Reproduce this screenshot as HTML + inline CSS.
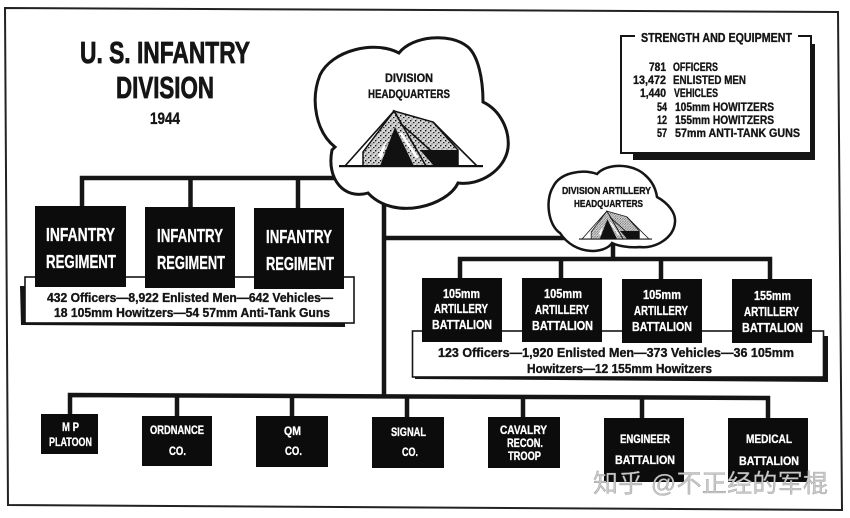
<!DOCTYPE html>
<html><head><meta charset="utf-8"><style>
html,body{margin:0;padding:0;background:#fff}
svg{display:block}
text{font-family:"Liberation Sans","Noto Sans CJK SC",sans-serif;font-weight:bold}
.w{fill:#fff;stroke:#fff;stroke-width:.3}.k{fill:#151515;stroke:#151515;stroke-width:.35}
</style></head><body>
<svg width="850" height="518" viewBox="0 0 850 518" xmlns="http://www.w3.org/2000/svg">
<defs>
<pattern id="st" width="5" height="5" patternUnits="userSpaceOnUse">
<rect width="5" height="5" fill="#d4d4d4"/>
<rect x="0" y="0" width="1.4" height="1.4" fill="#111"/><rect x="3" y="2" width="1.5" height="1.2" fill="#222"/><rect x="1.5" y="3.5" width="1" height="1" fill="#444"/>
</pattern>
<g id="tent">
<polygon points="394,111 433,122 458,150 458,166 426,166" fill="url(#st)" stroke="#111" stroke-width="1.5"/>
<polygon points="394,111 363,152 363,166 426,166" fill="url(#st)" stroke="#111" stroke-width="1.5"/>
<polygon points="420,150 458,150 458,166 434,166" fill="#111"/>
<polygon points="395,127 380,166 414,166" fill="#111"/>
<polygon points="378,155 387,140 381,160" fill="#fff"/>
<polygon points="399,133 402,133 419,158 416,158" fill="#fff"/>
<path d="M394,111 L345,166 M433,122 L477,166 M400,123 L448,166" fill="none" stroke="#111" stroke-width="1.6"/>
<rect x="339" y="165" width="144" height="2.2" fill="#111"/>
</g>
</defs>
<rect width="850" height="518" fill="#fff"/>
<polygon points="5,8 838,12 842,510 8,505" fill="#fff" stroke="#222" stroke-width="2"/>

<g fill="none" stroke="#151515" stroke-width="4.5">
<path d="M82,207 V178 H340"/><path d="M190.500,178 V207"/><path d="M298,178 V208"/>
<path d="M384,190 V396"/><path d="M384,238 H565"/>
<path d="M460,278 V259 H770 V279"/><path d="M561,259 V278"/><path d="M661,259 V279"/><path d="M613,244 V259"/>
<path d="M70,414 V395 L768,398 V418"/><path d="M177,395 V416"/><path d="M292,396 V416"/><path d="M407,396 V417"/><path d="M523,397 V417"/><path d="M642,397 V418"/>
</g>

<path d="M399,53 C412,36 450,32 468,47 C478,56 483,78 483,102 C500,110 510,130 508,148 C505,170 480,186 458,183 C448,205 395,222 368,193 C345,200 326,180 332,150 L335,147 C316,132 310,100 320,75 C332,50 375,40 399,53Z" fill="#fff" stroke="#151515" stroke-width="3"/>
<path d="M597,174 C607,163 632,163 645,175 C653,182 656,190 657,197 C668,203 676,213 675,222 C674,238 655,249 640,247 C630,248 618,246 612,243 C605,254 575,256 560,233 C548,225 545,200 553,187 C560,172 583,169 597,174Z" fill="#fff" stroke="#151515" stroke-width="2.5"/>
<use href="#tent"/>
<use href="#tent" transform="translate(579,239) scale(.507) translate(-339,-166)"/>

<!-- strength box -->
<polygon points="811,44 815,44 815,160 633,160 633,153 811,153" fill="#151515"/>
<path d="M635,36 H621 V153 H811 V36 H798" fill="none" stroke="#151515" stroke-width="2"/>

<!-- strips -->
<polygon points="20,286 25,286 25,320 345,320 345,327 21,325" fill="#151515"/>
<rect x="25" y="277" width="329" height="46" fill="#fff" stroke="#151515" stroke-width="1.6"/>
<polygon points="823,336 828,336 828,382 415,379 415,376 823,376" fill="#151515"/>
<rect x="412.500" y="331" width="411" height="46" fill="#fff" stroke="#151515" stroke-width="1.6"/>

<!-- boxes -->
<g fill="#0c0c0c">
<rect x="35" y="206" width="91" height="81"/><rect x="145" y="207" width="90" height="81"/><rect x="254" y="208" width="90" height="81"/>
<rect x="422" y="278" width="80" height="64"/><rect x="522" y="278" width="80" height="64"/><rect x="622" y="279" width="80" height="64"/><rect x="732" y="279" width="80" height="64"/>
<rect x="41" y="414" width="57" height="40"/><rect x="142" y="416" width="70" height="50"/><rect x="256" y="416" width="72" height="51"/><rect x="372" y="417" width="72" height="51"/><rect x="488" y="417" width="72" height="51"/><rect x="604" y="418" width="80" height="64"/><rect x="728" y="418" width="80" height="64"/>
</g>

<!-- title -->
<g class="k">
<text x="80" y="63" font-size="31" textLength="170" lengthAdjust="spacingAndGlyphs" stroke-width=".8" style="stroke-width:.8">U. S. INFANTRY</text>
<text x="116" y="98" font-size="31" textLength="98" lengthAdjust="spacingAndGlyphs" style="stroke-width:.8">DIVISION</text>
<text x="150" y="124" font-size="17" textLength="30" lengthAdjust="spacingAndGlyphs">1944</text>

<text x="385" y="82" font-size="12" textLength="48" lengthAdjust="spacingAndGlyphs">DIVISION</text>
<text x="368" y="98" font-size="12" textLength="82" lengthAdjust="spacingAndGlyphs">HEADQUARTERS</text>
<text x="562" y="194" font-size="10" textLength="89" lengthAdjust="spacingAndGlyphs">DIVISION ARTILLERY</text>
<text x="574" y="207" font-size="10" textLength="69" lengthAdjust="spacingAndGlyphs">HEADQUARTERS</text>

<text x="641" y="42" font-size="12.500" textLength="151" lengthAdjust="spacingAndGlyphs">STRENGTH AND EQUIPMENT</text>
<g font-size="12">
<text x="649" y="71" textLength="17" lengthAdjust="spacingAndGlyphs">781</text><text x="673" y="71" textLength="45" lengthAdjust="spacingAndGlyphs">OFFICERS</text>
<text x="633" y="84" textLength="33" lengthAdjust="spacingAndGlyphs">13,472</text><text x="673" y="84" textLength="73" lengthAdjust="spacingAndGlyphs">ENLISTED MEN</text>
<text x="640" y="97" textLength="26" lengthAdjust="spacingAndGlyphs">1,440</text><text x="674" y="97" textLength="44" lengthAdjust="spacingAndGlyphs">VEHICLES</text>
<text x="657" y="111" textLength="10" lengthAdjust="spacingAndGlyphs">54</text><text x="675" y="111" textLength="99" lengthAdjust="spacingAndGlyphs">105mm HOWITZERS</text>
<text x="657" y="124" textLength="10" lengthAdjust="spacingAndGlyphs">12</text><text x="675" y="124" textLength="99" lengthAdjust="spacingAndGlyphs">155mm HOWITZERS</text>
<text x="657" y="137" textLength="10" lengthAdjust="spacingAndGlyphs">57</text><text x="675" y="137" textLength="125" lengthAdjust="spacingAndGlyphs">57mm ANTI-TANK GUNS</text>
</g>
<g font-size="12.500">
<text x="47" y="302" textLength="286" lengthAdjust="spacingAndGlyphs">432 Officers—8,922 Enlisted Men—642 Vehicles—</text>
<text x="54" y="317" textLength="276" lengthAdjust="spacingAndGlyphs">18 105mm Howitzers—54 57mm Anti-Tank Guns</text>
<text x="438" y="357" textLength="356" lengthAdjust="spacingAndGlyphs">123 Officers—1,920 Enlisted Men—373 Vehicles—36 105mm</text>
<text x="527" y="373" textLength="185" lengthAdjust="spacingAndGlyphs">Howitzers—12 155mm Howitzers</text>
</g>
</g>

<g class="w" font-size="18">
<text x="46" y="241" textLength="69" lengthAdjust="spacingAndGlyphs">INFANTRY</text><text x="46" y="268" textLength="70" lengthAdjust="spacingAndGlyphs">REGIMENT</text>
<text x="157" y="242" textLength="66" lengthAdjust="spacingAndGlyphs">INFANTRY</text><text x="157" y="269" textLength="68" lengthAdjust="spacingAndGlyphs">REGIMENT</text>
<text x="266" y="243" textLength="66" lengthAdjust="spacingAndGlyphs">INFANTRY</text><text x="266" y="270" textLength="68" lengthAdjust="spacingAndGlyphs">REGIMENT</text>
</g>
<g class="w" font-size="13">
<text x="443" y="298" textLength="37" lengthAdjust="spacingAndGlyphs">105mm</text><text x="434" y="313" textLength="54" lengthAdjust="spacingAndGlyphs">ARTILLERY</text><text x="432" y="329" textLength="60" lengthAdjust="spacingAndGlyphs">BATTALION</text>
<text x="544" y="298" textLength="38" lengthAdjust="spacingAndGlyphs">105mm</text><text x="535" y="314" textLength="54" lengthAdjust="spacingAndGlyphs">ARTILLERY</text><text x="532" y="330" textLength="61" lengthAdjust="spacingAndGlyphs">BATTALION</text>
<text x="643" y="299" textLength="38" lengthAdjust="spacingAndGlyphs">105mm</text><text x="634" y="315" textLength="54" lengthAdjust="spacingAndGlyphs">ARTILLERY</text><text x="632" y="331" textLength="60" lengthAdjust="spacingAndGlyphs">BATTALION</text>
<text x="754" y="300" textLength="37" lengthAdjust="spacingAndGlyphs">155mm</text><text x="744" y="316" textLength="55" lengthAdjust="spacingAndGlyphs">ARTILLERY</text><text x="742" y="332" textLength="61" lengthAdjust="spacingAndGlyphs">BATTALION</text>
</g>
<g class="w" font-size="12">
<text x="62" y="431" textLength="17" lengthAdjust="spacingAndGlyphs">M P</text><text x="49" y="446" textLength="43" lengthAdjust="spacingAndGlyphs">PLATOON</text>
<text x="150" y="434" textLength="54" lengthAdjust="spacingAndGlyphs">ORDNANCE</text><text x="169" y="455" textLength="17" lengthAdjust="spacingAndGlyphs">CO.</text>
<text x="284" y="435" textLength="17" lengthAdjust="spacingAndGlyphs">QM</text><text x="285" y="455" textLength="17" lengthAdjust="spacingAndGlyphs">CO.</text>
<text x="391" y="436" textLength="35" lengthAdjust="spacingAndGlyphs">SIGNAL</text><text x="402" y="456" textLength="16" lengthAdjust="spacingAndGlyphs">CO.</text>
<text x="500" y="434" textLength="47" lengthAdjust="spacingAndGlyphs">CAVALRY</text><text x="507" y="447" textLength="36" lengthAdjust="spacingAndGlyphs">RECON.</text><text x="508" y="460" textLength="33" lengthAdjust="spacingAndGlyphs">TROOP</text>
<text x="620" y="443" textLength="50" lengthAdjust="spacingAndGlyphs">ENGINEER</text><text x="615" y="464" textLength="60" lengthAdjust="spacingAndGlyphs">BATTALION</text>
<text x="746" y="443" textLength="46" lengthAdjust="spacingAndGlyphs">MEDICAL</text><text x="739" y="465" textLength="60" lengthAdjust="spacingAndGlyphs">BATTALION</text>
</g>

<text x="593" y="492" font-size="25" textLength="235" style="font-weight:normal;font-family:'Liberation Sans','Noto Sans CJK SC',sans-serif" fill="#c9c9c9" stroke="#8a8a8a" stroke-width=".3">知乎 @不正经的军棍</text>
</svg>
</body></html>
